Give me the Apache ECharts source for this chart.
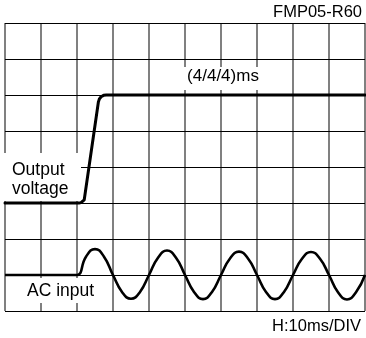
<!DOCTYPE html>
<html><head><meta charset="utf-8">
<script src="https://cdn.jsdelivr.net/npm/echarts@6/dist/echarts.min.js"></script>
<style>html,body{margin:0;padding:0;background:#fff}#c{width:366px;height:338px}</style>
</head><body><div id="c"></div>
<script>
// Horizontal axis: time in ms (10 ms / DIV, 10 divisions)
const timeMin = 0, timeMax = 100, timeStep = 10;
// Vertical axis: divisions (8 divisions)
const divMin = 0, divMax = 8, divStep = 1;

// Output voltage trace (time ms, level in DIV)
const outTime  = [0, 20.56, 21.12, 21.65, 22.01, 22.21, 25.95, 26.21, 26.69, 27.39, 28.15, 100];
const outLevel = [3, 3, 3.01, 3.04, 3.09, 3.14, 5.81, 5.89, 5.95, 5.99, 6, 6];

// AC input trace (time ms, level in DIV)
const acTime = [0, 2.5, 5, 7.5, 10, 12.5, 15, 17.5, 20,
  22.5, 25, 27.5, 30, 32.5, 35, 37.5, 40,
  42.5, 45, 47.5, 50, 52.5, 55, 57.5, 60,
  62.5, 65, 67.5, 70, 72.5, 75, 77.5, 80,
  82.5, 85, 87.5, 90, 92.5, 95, 97.5, 100];
const acLevel = [1, 1, 1, 1, 1, 1, 1, 1, 1,
  1.51, 1.72, 1.51, 1.0, 0.53, 0.34, 0.53, 1.0,
  1.48, 1.68, 1.48, 1.0, 0.53, 0.33, 0.53, 1.0,
  1.46, 1.65, 1.46, 1.0, 0.53, 0.33, 0.53, 1.0,
  1.45, 1.64, 1.45, 1.0, 0.52, 0.32, 0.52, 1.0];

const labels = {
  model: 'FMP05-R60',
  timing: '(4/4/4)ms',
  out1: 'Output',
  out2: 'voltage',
  ac: 'AC input',
  scale: 'H:10ms/DIV'
};

const FONT = '"Liberation Sans", Arial, Helvetica, sans-serif';
function txt(text, x, y, size, align) {
  return {
    type: 'text', x: x, y: y, z: 4,
    style: {
      text: text, font: size + 'px ' + FONT, fill: '#000',
      align: align, verticalAlign: 'middle',
      textAlign: align, textVerticalAlign: 'middle'
    }
  };
}
function box(x, y, w, h) {
  return { type: 'rect', z: 3, shape: { x: x, y: y, width: w, height: h }, style: { fill: '#fff' } };
}

const chart = echarts.init(document.getElementById('c'), null, { renderer: 'canvas' });
chart.setOption({
  animation: false,
  backgroundColor: '#fff',
  grid: { left: 5, right: 1, top: 23, bottom: 27, containLabel: false },
  xAxis: {
    type: 'value', min: timeMin, max: timeMax, interval: timeStep, z: 0,
    axisLine: { show: false }, axisTick: { show: false }, axisLabel: { show: false },
    splitLine: { show: true, lineStyle: { color: '#808080', width: 2 } }
  },
  yAxis: {
    type: 'value', min: divMin, max: divMax, interval: divStep, z: 1,
    axisLine: { show: false }, axisTick: { show: false }, axisLabel: { show: false },
    splitLine: { show: true, lineStyle: { color: '#000', width: 1 } }
  },
  series: [
    {
      type: 'line', z: 5, showSymbol: false, smooth: false,
      data: outTime.map((t, i) => [t, outLevel[i]]),
      lineStyle: { color: '#000', width: 3, join: 'round', cap: 'round' }
    },
    {
      type: 'line', z: 5, showSymbol: false, smooth: 0.5,
      data: acTime.map((t, i) => [t, acLevel[i]]),
      lineStyle: { color: '#000', width: 2.6, join: 'round' }
    }
  ],
  graphic: [
    box(3, 153, 78, 48),
    box(10, 278, 92, 25),
    box(182, 67, 82, 23),
    txt(labels.model, 362, 12.6, 16.5, 'right'),
    txt(labels.scale, 361, 326, 16.5, 'right'),
    txt(labels.timing, 223, 76.6, 17, 'center'),
    txt(labels.out1, 12, 170.6, 17.5, 'left'),
    txt(labels.out2, 12, 189, 17.5, 'left'),
    txt(labels.ac, 27, 290.8, 17.5, 'left')
  ]
});
</script></body></html>
